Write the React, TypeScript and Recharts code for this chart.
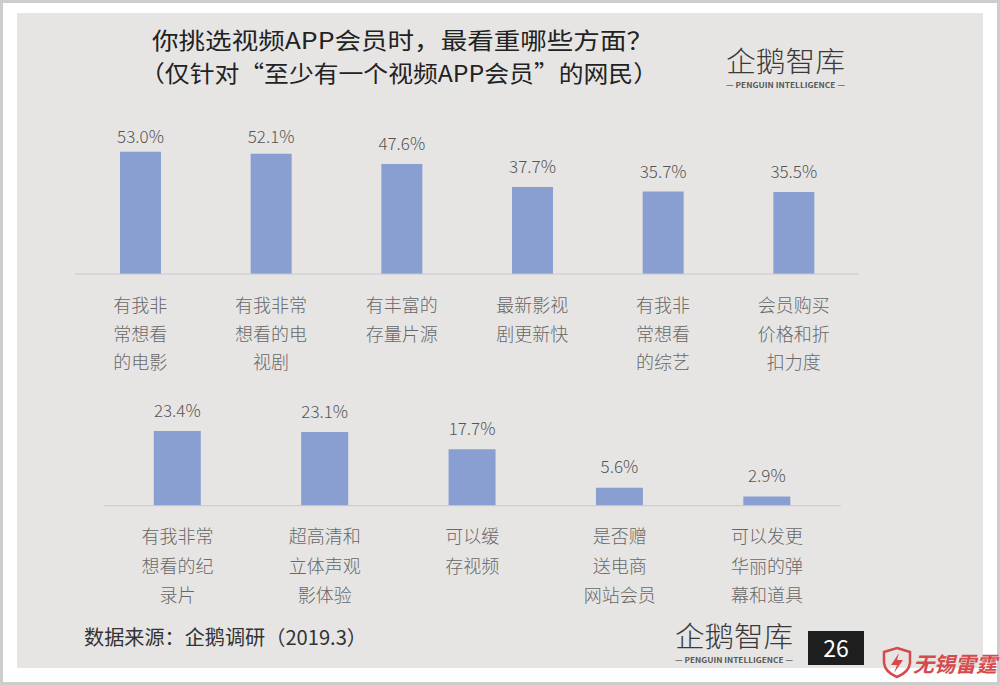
import React from 'react';
import { BarChart, Bar, XAxis, YAxis, LabelList } from 'recharts';

const topCategories = [
  '有我非\n常想看\n的电影',
  '有我非常\n想看的电\n视剧',
  '有丰富的\n存量片源',
  '最新影视\n剧更新快',
  '有我非\n常想看\n的综艺',
  '会员购买\n价格和折\n扣力度',
];
const topValues = [53.0, 52.1, 47.6, 37.7, 35.7, 35.5];

const bottomCategories = [
  '有我非常\n想看的纪\n录片',
  '超高清和\n立体声观\n影体验',
  '可以缓\n存视频',
  '是否赠\n送电商\n网站会员',
  '可以发更\n华丽的弹\n幕和道具',
];
const bottomValues = [23.4, 23.1, 17.7, 5.6, 2.9];

const titleLines = ['你挑选视频APP会员时，最看重哪些方面？', '（仅针对“至少有一个视频APP会员”的网民）'];
const sourceText = '数据来源：企鹅调研（2019.3）';
const pageNumber = '26';

const topData = topCategories.map((name, i) => ({ name, value: topValues[i] }));
const bottomData = bottomCategories.map((name, i) => ({ name, value: bottomValues[i] }));

const FONT = '"Noto Sans CJK SC", "Noto Sans", sans-serif';
const BAR_COLOR = '#8a9fd1';

const makeTick = (firstOffset: number, gap: number) => (props: any) => {
  const { x, y, payload } = props;
  const lines = String(payload.value).split('\n');
  return (
    <g transform={`translate(${x},${y})`}>
      {lines.map((l: string, i: number) => (
        <text
          key={i}
          x={0}
          y={firstOffset + i * gap}
          textAnchor="middle"
          dominantBaseline="central"
          fill="#686868"
          fontSize={18}
          fontWeight={300}
          fontFamily={FONT}
        >
          {l}
        </text>
      ))}
    </g>
  );
};

const makeLabel = (offset: number, minBaseline: number) => (props: any) => {
  const { x, y, width, value } = props;
  const by = Math.max(y - offset, minBaseline);
  return (
    <text
      x={x + width / 2}
      y={by}
      textAnchor="middle"
      fill="#555555"
      fontSize={17}
      fontWeight={300}
      fontFamily={FONT}
    >
      {Number(value).toFixed(1)}%
    </text>
  );
};

const Logo = ({ x, y, w }: { x: number; y: number; w: number }) => (
  <g>
    <text x={x} y={y} fontSize={28} fontWeight={300} fill="#3a3a3a" fontFamily={FONT} textLength={w} lengthAdjust="spacingAndGlyphs">
      企鹅智库
    </text>
    <text x={x + w / 2} y={y + 16} fontSize={7} fontWeight={700} fill="#555" fontFamily={FONT} textAnchor="middle" textLength={w} lengthAdjust="spacingAndGlyphs">
      — PENGUIN  INTELLIGENCE —
    </text>
  </g>
);

export default function App() {
  return (
    <div style={{ position: 'relative', width: 1000, height: 685, background: '#ffffff', overflow: 'hidden', fontFamily: FONT }}>
      <style>{'body{margin:0}'}</style>
      <div style={{ position: 'absolute', left: 0, top: 0, width: 1000, height: 685, boxSizing: 'border-box', border: '3px solid #cdcdcd' }} />
      <div style={{ position: 'absolute', left: 17, top: 13, width: 966, height: 655, background: '#e6e5e4' }} />

      <svg width={1000} height={685} style={{ position: 'absolute', left: 0, top: 0 }}>
        <text x={152} y={49} fontSize={23} fill="#222" fontFamily={FONT} textLength={501} lengthAdjust="spacingAndGlyphs">
          {titleLines[0]}
        </text>
        <text x={140} y={82} fontSize={23} fill="#222" fontFamily={FONT} textLength={518} lengthAdjust="spacingAndGlyphs">
          {titleLines[1]}
        </text>
        <Logo x={726} y={72} w={119} />
        <text x={84} y={645} fontSize={20} fill="#333" fontFamily={FONT} textLength={283} lengthAdjust="spacingAndGlyphs">
          {sourceText}
        </text>
        <Logo x={675} y={647} w={118} />
        <rect x={808} y={631} width={56} height={34} fill="#1e1e1e" />
        <text x={836} y={657} fontSize={23} fill="#ffffff" textAnchor="middle" fontFamily={FONT}>
          {pageNumber}
        </text>
        <path d="M897 648 L910 652 L910 663 Q909 672 897 677 Q885 672 884 663 L884 652 Z" fill="none" stroke="#d64a4c" strokeWidth={2.5} />
        <path d="M899 653 L891 665 L897 665 L894 673 L903 660 L897 660 Z" fill="#d64a4c" />
        <text x={913} y={672} fontSize={21} fontWeight={700} fontStyle="italic" fill="#d64a4c" fontFamily={FONT} textLength={84} lengthAdjust="spacingAndGlyphs">
          无锡雷霆
        </text>
      </svg>

      <div style={{ position: 'absolute', left: 0, top: 0 }}>
        <BarChart width={1000} height={400} data={topData} margin={{ top: 135.5, right: 141, bottom: 26, left: 75 }}>
          <YAxis hide domain={[0, 60]} />
          <XAxis
            dataKey="name"
            interval={0}
            height={100}
            tickLine={false}
            tickSize={0}
            tickMargin={0}
            axisLine={{ stroke: '#c9c9c9', strokeWidth: 1 }}
            tick={makeTick(30, 28.7)}
          />
          <Bar dataKey="value" fill={BAR_COLOR} barSize={41} isAnimationActive={false}>
            <LabelList dataKey="value" content={makeLabel(14, 143)} />
          </Bar>
        </BarChart>
      </div>

      <div style={{ position: 'absolute', left: 0, top: 380 }}>
        <BarChart width={1000} height={305} data={bottomData} margin={{ top: 30, right: 159.3, bottom: 59.3, left: 103.8 }}>
          <YAxis hide domain={[0, 30]} />
          <XAxis
            dataKey="name"
            interval={0}
            height={120}
            tickLine={false}
            tickSize={0}
            tickMargin={0}
            axisLine={{ stroke: '#c9c9c9', strokeWidth: 1 }}
            tick={makeTick(29.3, 29.7)}
          />
          <Bar dataKey="value" fill={BAR_COLOR} barSize={47} isAnimationActive={false}>
            <LabelList dataKey="value" content={makeLabel(14.5, 0)} />
          </Bar>
        </BarChart>
      </div>
    </div>
  );
}
